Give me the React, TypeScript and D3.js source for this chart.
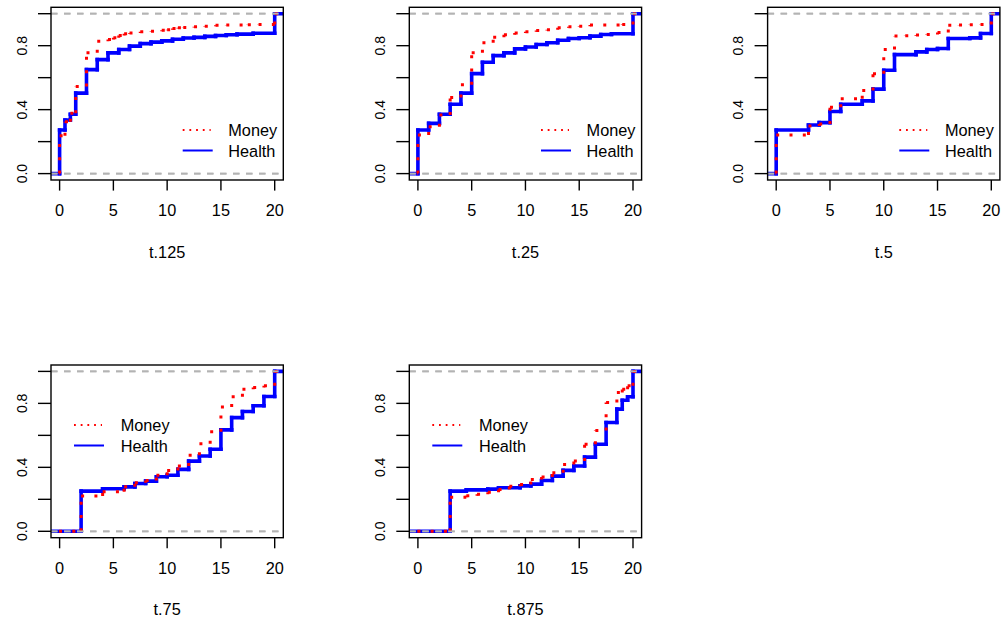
import React from 'react';
import * as d3 from 'd3';

// ecdf step data, one entry per panel
const panelLabels = ['t.125', 't.25', 't.5', 't.75', 't.875'];
const seriesNames = ['Money', 'Health'];
const xTicks = [0, 5, 10, 15, 20];
const yTicks = [0, 0.2, 0.4, 0.6, 0.8, 1];
const yTickLabels = ['0.0', '', '0.4', '', '0.8', ''];

const healthKnots = [
  [0, 0.5, 1, 1.5, 2.5, 3.5, 4.5, 5.5, 6.5, 7.5, 8.5, 9.5, 10.5, 11.5, 12.5, 13.5, 14.5, 15.5, 16.5, 18, 20],
  [0, 1, 2, 3, 4, 5, 6, 7, 8, 9, 10, 11, 12, 13, 14, 15, 16, 17, 18, 20],
  [0, 3, 4, 5, 6, 8, 9, 10, 11, 13, 14, 15, 16, 18, 19, 20],
  [2, 4, 6, 7, 8, 9, 10, 11, 12, 13, 14, 15, 16, 17, 18, 19, 20],
  [3, 4.5, 6.5, 7.5, 9.5, 10.5, 11.5, 12.5, 13.5, 14.5, 15.5, 16.5, 17.5, 18.5, 19, 19.5, 20],
];
const healthCdf = [
  [0.273, 0.335, 0.371, 0.503, 0.65, 0.713, 0.755, 0.776, 0.797, 0.813, 0.822, 0.83, 0.84, 0.848, 0.852, 0.858, 0.864, 0.868, 0.872, 0.878, 1],
  [0.273, 0.314, 0.371, 0.434, 0.503, 0.625, 0.696, 0.738, 0.755, 0.78, 0.792, 0.807, 0.818, 0.834, 0.845, 0.85, 0.86, 0.87, 0.875, 1],
  [0.273, 0.304, 0.319, 0.388, 0.434, 0.455, 0.528, 0.646, 0.744, 0.761, 0.776, 0.782, 0.845, 0.849, 0.876, 1],
  [0.251, 0.266, 0.278, 0.299, 0.314, 0.341, 0.351, 0.387, 0.439, 0.471, 0.513, 0.634, 0.711, 0.749, 0.785, 0.843, 1],
  [0.251, 0.259, 0.264, 0.272, 0.284, 0.295, 0.318, 0.345, 0.381, 0.408, 0.464, 0.544, 0.68, 0.764, 0.82, 0.841, 1],
];

const moneyKnots = [
  [0, 0.5, 1, 1.5, 2.5, 3.5, 4.5, 5, 5.5, 6, 6.5, 7.5, 8.5, 9.5, 10, 10.5, 11, 11.5, 12.5, 13.5, 14.5, 15.5, 17.5, 18.5, 20],
  [0, 1, 2, 3, 4, 5, 6, 7, 8, 9, 10, 11, 12, 13, 14, 15, 16, 19, 20],
  [0, 3, 4, 5, 6, 8, 9, 10, 11, 12, 13, 14, 15, 16, 17, 18, 19, 20],
  [2, 4, 6, 7, 8, 9, 10, 11, 12, 13, 14, 15, 16, 17, 18, 19, 20],
  [3, 4.5, 5.5, 6.5, 7.5, 8.5, 9.5, 10.5, 11.5, 12.5, 13.5, 14.5, 15.5, 16.5, 17.5, 18.5, 19, 19.5, 20],
];
const moneyCdf = [
  [0.237, 0.325, 0.377, 0.545, 0.755, 0.828, 0.838, 0.849, 0.864, 0.874, 0.88, 0.887, 0.891, 0.897, 0.9, 0.908, 0.912, 0.914, 0.918, 0.922, 0.927, 0.929, 0.931, 0.933, 1],
  [0.241, 0.293, 0.367, 0.476, 0.555, 0.755, 0.818, 0.853, 0.868, 0.88, 0.887, 0.895, 0.9, 0.912, 0.918, 0.922, 0.929, 0.933, 1],
  [0.241, 0.298, 0.31, 0.415, 0.468, 0.52, 0.625, 0.776, 0.86, 0.862, 0.866, 0.87, 0.882, 0.927, 0.929, 0.931, 0.933, 1],
  [0.22, 0.247, 0.278, 0.303, 0.318, 0.351, 0.381, 0.408, 0.475, 0.548, 0.623, 0.778, 0.841, 0.889, 0.9, 0.91, 1],
  [0.213, 0.222, 0.232, 0.245, 0.262, 0.282, 0.293, 0.324, 0.339, 0.366, 0.418, 0.44, 0.544, 0.63, 0.805, 0.868, 0.889, 0.91, 1],
];

const W = 1004;
const H = 622;
const cellW = 358.3;
const cellH = 357.7;
const boxW = 232.3;
const boxH = 172.7;
const font = '"Liberation Sans", Arial, Helvetica, sans-serif';

type Seg = { x1: number; y1: number; x2: number; y2: number };

// horizontals then verticals, like plot.stepfun
const stepSegments = (knots: number[], cdf: number[]) => {
  const ti = [-5, ...knots, 30];
  const ys = [0, ...cdf];
  const hor: Seg[] = ys.map((y, i) => ({ x1: ti[i], y1: y, x2: ti[i + 1], y2: y }));
  const ver: Seg[] = knots.map((k, i) => ({ x1: k, y1: i === 0 ? 0 : cdf[i - 1], x2: k, y2: cdf[i] }));
  return [...hor, ...ver];
};

const Txt = ({ x, y, children, anchor = 'middle', rotate = false }: any) => (
  <text
    transform={`translate(${x},${y})${rotate ? ' rotate(-90)' : ''}`}
    textAnchor={anchor}
    dominantBaseline="central"
    fontFamily={font}
    fontSize={rotate ? 14 : 16.3}
    fill="#000"
  >
    {children}
  </text>
);

const Panel = ({ i }: { i: number }) => {
  const col = i % 3;
  const row = Math.floor(i / 3);
  const left = 51 + col * cellW;
  const top = 7.3 + row * cellH;
  const x = d3.scaleLinear().domain([-0.8, 20.8]).range([left, left + boxW]);
  const y = d3.scaleLinear().domain([-0.04, 1.04]).range([top + boxH, top]);
  const clipId = `clip${i}`;

  const health = stepSegments(healthKnots[i], healthCdf[i]);
  const money = stepSegments(moneyKnots[i], moneyCdf[i]);

  const refLines = (key: string) =>
    [0, 1].map((v) => (
      <line key={key + v} x1={left} x2={left + boxW} y1={y(v)} y2={y(v)}
        stroke="#B3B3B3" strokeWidth={1.7} strokeDasharray="6.5 6.5" />
    ));

  const legX = row === 0 ? left + 131.7 : left + 23;
  const legTextX = row === 0 ? left + 177.3 : left + 69.7;
  const legY = row === 0 ? top + 122.7 : top + 60;

  return (
    <g>
      <clipPath id={clipId}>
        <rect x={left} y={top} width={boxW} height={boxH} />
      </clipPath>
      <g clipPath={`url(#${clipId})`}>
        {health.map((s, j) => (
          <line key={'h' + j} x1={x(s.x1)} x2={x(s.x2)} y1={y(s.y1)} y2={y(s.y2)}
            stroke="#0000FF" strokeWidth={3.6} strokeLinecap="square" />
        ))}
        {refLines('a')}
        {money.map((s, j) => (
          <line key={'m' + j} x1={x(s.x1)} x2={x(s.x2)} y1={y(s.y1)} y2={y(s.y2)}
            stroke="#FF0000" strokeWidth={3} strokeDasharray="3 10.3" />
        ))}
        {refLines('b')}
      </g>
      <rect x={left} y={top} width={boxW} height={boxH} fill="none" stroke="#000" strokeWidth={1.4} />
      {xTicks.map((t) => (
        <g key={'xt' + t}>
          <line x1={x(t)} x2={x(t)} y1={top + boxH} y2={top + boxH + 10.6} stroke="#000" strokeWidth={1.4} />
          <Txt x={x(t)} y={top + boxH + 30}>{t}</Txt>
        </g>
      ))}
      {yTicks.map((t, j) => (
        <g key={'yt' + t}>
          <line x1={left} x2={left - 13} y1={y(t)} y2={y(t)} stroke="#000" strokeWidth={1.4} />
          {yTickLabels[j] && <Txt x={left - 29.3} y={y(t)} rotate>{yTickLabels[j]}</Txt>}
        </g>
      ))}
      <Txt x={left + boxW / 2} y={top + boxH + 71.7}>{panelLabels[i]}</Txt>
      <line x1={legX} x2={legX + 28} y1={legY} y2={legY} stroke="#FF0000" strokeWidth={1.8} strokeDasharray="1.8 4.9" />
      <Txt x={legTextX} y={legY} anchor="start">{seriesNames[0]}</Txt>
      <line x1={legX} x2={legX + 30} y1={legY + 20.5} y2={legY + 20.5} stroke="#0000FF" strokeWidth={2} />
      <Txt x={legTextX} y={legY + 20.5} anchor="start">{seriesNames[1]}</Txt>
    </g>
  );
};

export default function App() {
  return (
    <svg width={W} height={H} style={{ position: 'absolute', left: 0, top: 0, background: '#fff' }}>
      <rect width={W} height={H} fill="#fff" />
      {panelLabels.map((_, i) => <Panel key={i} i={i} />)}
    </svg>
  );
}
